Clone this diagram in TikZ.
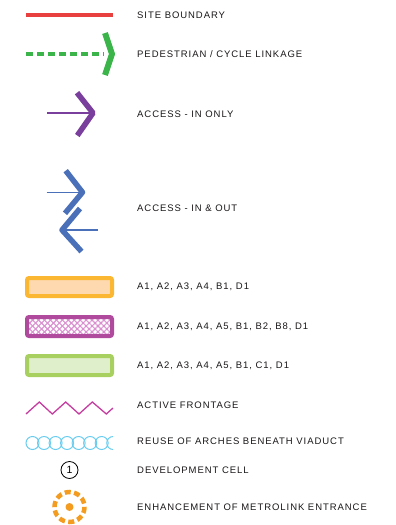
\documentclass[tikz,border=0pt]{standalone}
\usepackage{fontspec}
\setmainfont{Liberation Sans}[LetterSpace=10]
\usetikzlibrary{patterns.meta}
\definecolor{txt}{HTML}{1A1718}
\definecolor{red1}{HTML}{E8403E}
\definecolor{grn1}{HTML}{3BB54A}
\definecolor{pur1}{HTML}{7A3F9C}
\definecolor{blu1}{HTML}{4A70BA}
\definecolor{orS}{HTML}{FBB731}
\definecolor{orF}{HTML}{FED8AE}
\definecolor{puS}{HTML}{B04A9C}
\definecolor{puP}{HTML}{DA90D0}
\definecolor{grS}{HTML}{A8D060}
\definecolor{grF}{HTML}{DFEECB}
\definecolor{zig}{HTML}{C63DA0}
\definecolor{arch}{HTML}{6ACDEF}
\definecolor{metro}{HTML}{F39C1F}
\tikzset{
  lbl/.style={anchor=west, inner sep=0pt, text=txt, font=\fontsize{9.5}{11}\selectfont},
  chev/.style={line width=5.5pt, line cap=butt, line join=round},
  shaft/.style={line width=1.5pt},
  keybox/.style={line width=4pt, rounded corners=2pt}
}
\begin{document}
\begin{tikzpicture}[x=1pt,y=-1pt]
\useasboundingbox (0,0) rectangle (396,525);
% site boundary
\draw[red1, line width=4.5pt] (26,15) -- (113,15);
\node[lbl] (t1) at (137,15) {SITE BOUNDARY};
% pedestrian / cycle
\draw[grn1, line width=4.5pt, dash pattern=on 7pt off 4pt] (26,54) -- (104,54);
\draw[grn1, chev, line width=6pt] (105,33) -- (112,54) -- (105,75);
\node[lbl] (t2) at (137,54) {PEDESTRIAN / CYCLE LINKAGE};
% access in only
\draw[pur1, shaft] (47,113) -- (92,113);
\draw[pur1, chev] (77,92.7) -- (93,113) -- (77.3,135.5);
\node[lbl] (t3) at (137,114) {ACCESS - IN ONLY};
% access in & out
\draw[blu1, shaft] (46.7,192.3) -- (81,192.3);
\draw[blu1, chev] (65.7,170.7) -- (82.5,192.3) -- (65,213.3);
\draw[blu1, shaft] (63,230) -- (97.7,230);
\draw[blu1, chev] (80,208.5) -- (62,230) -- (81.5,251.5);
\node[lbl] (t4) at (137,208.5) {ACCESS - IN \& OUT};
% use class boxes
\draw[keybox, draw=orS, fill=orF] (27,278) rectangle (112,296);
\node[lbl] (t5) at (137,287) {A1, A2, A3, A4, B1, D1};
\fill[white] (27,317) rectangle (112,336);
\fill[pattern={Lines[angle=45,distance=4.2pt,line width=1.1pt]}, pattern color=puP] (27,317) rectangle (112,336);
\fill[pattern={Lines[angle=-45,distance=4.2pt,line width=1.1pt]}, pattern color=puP] (27,317) rectangle (112,336);
\draw[keybox, draw=puS] (27,317) rectangle (112,336);
\node[lbl] (t6) at (137,326.5) {A1, A2, A3, A4, A5, B1, B2, B8, D1};
\draw[keybox, draw=grS, fill=grF] (27,356) rectangle (112,375);
\node[lbl] (t7) at (137,366) {A1, A2, A3, A4, A5, B1, C1, D1};
% active frontage
\draw[zig, line width=1.3pt, line join=miter] (26,414) -- (39.3,402) -- (52.3,414) -- (65.7,402) -- (79,414) -- (92.3,402) -- (106.3,414) -- (113,408);
\node[lbl] (t8) at (137,405.5) {ACTIVE FRONTAGE};
% arches
\begin{scope}
\clip (20,430) rectangle (113,456);
\foreach \i in {0,...,7}
  \draw[arch, line width=1pt] (32.5+11.53*\i,443) circle[radius=6.5];
\end{scope}
\node[lbl] (t9) at (137,441.5) {REUSE OF ARCHES BENEATH VIADUCT};
% development cell
\node[draw=black, line width=0.8pt, circle, minimum size=17pt, inner sep=0pt, font=\fontsize{10.5}{12}\selectfont] (c1) at (69.5,470) {1};
\node[lbl] (t10) at (137,470.5) {DEVELOPMENT CELL};
% metrolink
\draw[metro, line width=4.5pt, dash pattern=on 6pt off 3.4pt] (69.5,507) circle[radius=15];
\fill[metro] (69.5,507) circle[radius=4];
\node[lbl] (t11) at (137,507.5) {ENHANCEMENT OF METROLINK ENTRANCE};
\end{tikzpicture}
\end{document}
